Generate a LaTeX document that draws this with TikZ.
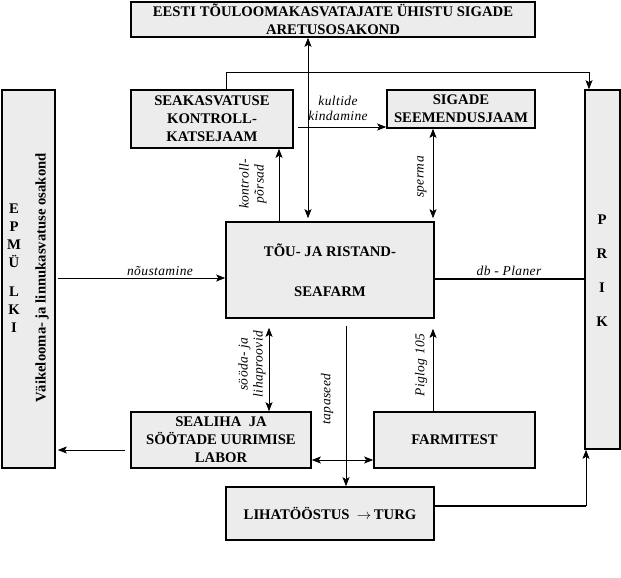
\documentclass[tikz,border=0pt]{standalone}
\usepackage{fontspec}
\setmainfont{Liberation Serif}
\newfontfamily\labfont[LetterSpace=3]{Liberation Serif}
\usetikzlibrary{arrows.meta}
\definecolor{boxgray}{RGB}{236,236,236}
\newcommand{\boxfont}{\bfseries\fontsize{14.7}{18}\selectfont}
\newcommand{\labelfont}{\labfont\itshape\fontsize{13.5}{15}\selectfont}
\begin{document}
\begin{tikzpicture}[x=1pt,y=-1pt,
  box/.style={draw, line width=1.6pt, fill=boxgray, inner sep=0pt, align=center, font=\boxfont},
  conn/.style={line width=0.7pt, -{Stealth[length=9pt,width=7pt,inset=2pt]}},
  biconn/.style={line width=0.7pt, {Stealth[length=9pt,width=7pt,inset=2pt]}-{Stealth[length=9pt,width=7pt,inset=2pt]}},
  thickline/.style={line width=1.6pt},
  lab/.style={font=\labelfont, inner sep=0pt, align=center},
  side/.style={font=\boxfont, inner sep=0pt, align=center}]
\useasboundingbox (0,0) rectangle (621,578);

% boxes
\node[box, minimum width=404pt, minimum height=35pt] (top) at (333,19.5)
  {\fontsize{14.7}{15.6}\selectfont EESTI TÕULOOMAKASVATAJATE ÜHISTU SIGADE\\ARETUSOSAKOND};
\node[box, minimum width=162pt, minimum height=58pt] (seak) at (212,119)
  {SEAKASVATUSE\\KONTROLL-\\KATSEJAAM};
\node[box, minimum width=148pt, minimum height=38pt] (sig) at (461,109)
  {SIGADE\\SEEMENDUSJAAM};
\node[box, minimum width=208pt, minimum height=96pt] (farm) at (330,270)
  {TÕU- JA RISTAND-\\[22pt]SEAFARM};
\node[box, minimum width=180pt, minimum height=56pt] (seal) at (221,440)
  {\fontsize{14.7}{17}\selectfont SEALIHA\ \ JA\\SÖÖTADE UURIMISE\\LABOR};
\node[box, minimum width=161pt, minimum height=56pt] (farmt) at (454.5,440)
  {FARMITEST};
\node[box, minimum width=208pt, minimum height=53pt] (liha) at (330,513.5)
  {LIHATÖÖSTUS\ \ $\rightarrow$\,TURG};
\node[box, minimum width=53pt, minimum height=378pt] (epmu) at (28.5,279) {};
\node[box, minimum width=35pt, minimum height=359pt] (prik) at (602.5,269.5) {};

% texts inside side boxes
\node[side] (epmutxt) at (14,268)
  {\fontsize{14.7}{16.3}\selectfont E\\P\\M\\Ü\\[11pt]L\\K\\I};
\node[side, rotate=90] (vaike) at (42,278) {Väikelooma- ja linnukasvatuse osakond};
\node[side] (priktxt) at (602,271) {P\\[16pt]R\\[16pt]I\\[16pt]K};

% helper coordinates
\coordinate (cA) at (308,0);
\coordinate (cB) at (226,72);
\coordinate (cP) at (589,0);
\coordinate (kstart) at (298,127);
\coordinate (cK) at (279,0);
\coordinate (cS) at (433,0);
\coordinate (cN) at (0,278);
\coordinate (cD) at (0,279);
\coordinate (cL) at (269,0);
\coordinate (cT) at (346,0);
\coordinate (cF) at (0,460);
\coordinate (cE) at (0,450);
\coordinate (cR) at (586,506);

% connectors
\draw[biconn, shorten >=3pt] (top.south -| cA) -- (farm.north -| cA);
\draw[conn] (seak.north -| cB) -- (cB) -- (cB -| cP) -- (prik.north -| cP);
\draw[conn] (kstart) -- (kstart -| sig.west);
\draw[conn] (farm.north -| cK) -- (seak.south -| cK);
\draw[biconn, shorten >=3pt] (sig.south -| cS) -- (farm.north -| cS);
\draw[conn, shorten <=2pt] (epmu.east |- cN) -- (farm.west |- cN);
\draw[thickline] (farm.east |- cD) -- (prik.west |- cD);
\draw[biconn, shorten <=9pt] (farm.south -| cL) -- (seal.north -| cL);
\draw[conn, shorten <=7pt] (farm.south -| cT) -- (liha.north -| cT);
\draw[conn, shorten >=10pt] (farmt.north -| cS) -- (farm.south -| cS);
\draw[biconn] (seal.east |- cF) -- (farmt.west |- cF);
\draw[conn, shorten <=5pt, shorten >=2pt] (seal.west |- cE) -- (epmu.east |- cE);
\draw[thickline] (liha.east |- cR) -- (cR);
\draw[conn] (cR) -- (prik.south -| cR);

% connector labels
\node[lab] (lkult) at (338,108.5) {kultide\\kindamine};
\node[lab, rotate=90] (lkontr) at (253,184) {kontroll-\\põrsad};
\node[lab, rotate=90] (lsperma) at (422,177) {sperma};
\node[lab, anchor=base] (lnoust) at (160,275) {nõustamine};
\node[lab, anchor=base] (ldb) at (509,275) {db - Planer};
\node[lab, rotate=90] (lsooda) at (252,364) {sööda- ja\\lihaproovid};
\node[lab, rotate=90] (ltapa) at (327,399) {tapaseed};
\node[lab, rotate=90] (lpig) at (421,365) {Piglog 105};
\end{tikzpicture}
\end{document}
